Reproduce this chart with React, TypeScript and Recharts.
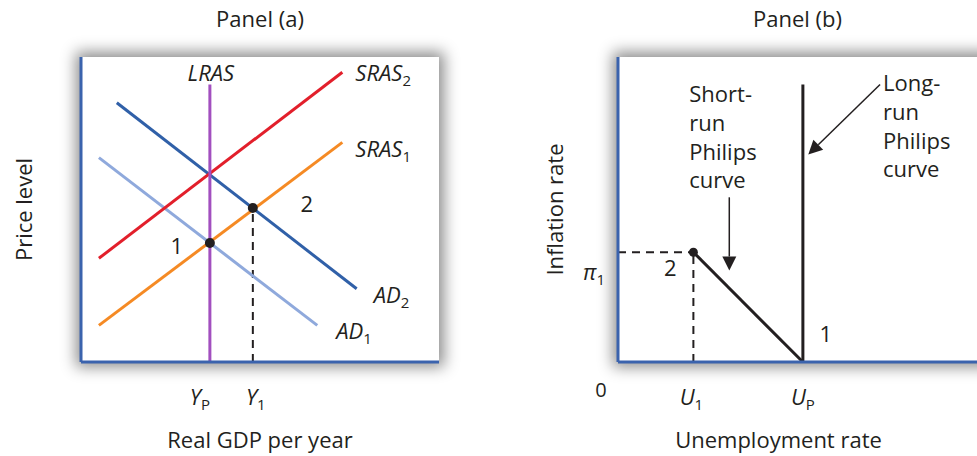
import React from "react";
import { ComposedChart, Line, Scatter, XAxis, YAxis, ReferenceLine, LabelList } from "recharts";

const FONT = "'Open Sans', 'Noto Sans', sans-serif";
const INK = "#231f20";
const AXIS = "#3b63ad";
const FS = 22;

// Panel (a): price level vs real GDP, both axes run 0..100
const lras = [{ x: 36, y: 0 }, { x: 36, y: 91 }];
const sras1 = [{ x: 5, y: 12 }, { x: 73, y: 72 }];
const sras2 = [{ x: 5, y: 34 }, { x: 73, y: 95 }];
const ad1 = [{ x: 5, y: 67 }, { x: 66, y: 12 }];
const ad2 = [{ x: 10, y: 85 }, { x: 77, y: 24 }];
const y1Drop = [{ x: 48, y: 0 }, { x: 48, y: 50.5 }];
const eqA = [{ x: 36, y: 39, name: "1" }, { x: 48, y: 50.5, name: "2" }];
const gdpTicks = [36, 48];
const gdpTickNames: Record<string, [string, string]> = { "36": ["Y", "P"], "48": ["Y", "1"] };

// Panel (b): inflation vs unemployment
const lrpc = [{ x: 51.5, y: 0 }, { x: 51.5, y: 91 }];
const srpc = [{ x: 21, y: 36 }, { x: 51.5, y: 0 }];
const u1Drop = [{ x: 21, y: 0 }, { x: 21, y: 36 }];
const pi1Guide = [{ x: 0, y: 36 }, { x: 21, y: 36 }];
const eqB = [{ x: 51.5, y: 0, name: "1" }, { x: 21, y: 36, name: "2" }];
const unempTicks = [21, 51.5];
const unempTickNames: Record<string, [string, string]> = { "21": ["U", "1"], "51.5": ["U", "P"] };
const inflTicks = [0, 36];
const srArrow = [{ x: 31, y: 54 }, { x: 31, y: 30 }];
const lrArrow = [{ x: 73, y: 91 }, { x: 53, y: 68 }];
const srText = ["Short-", "run", "Philips", "curve"];
const lrText = ["Long-", "run", "Philips", "curve"];

function SubLabel({ x, y, main, sub, anchor = "start", italic = true }: any) {
  return (
    <text x={x} y={y} textAnchor={anchor} fontFamily={FONT} fontSize={FS} fill={INK}>
      <tspan fontStyle={italic ? "italic" : "normal"}>{main}</tspan>
      {sub ? <tspan fontSize={15} dy={5}>{sub}</tspan> : null}
    </text>
  );
}

const endLabel = (main: string, sub: string, dx: number, dy: number, anchor = "start") => (p: any) =>
  p.index === 1 ? <SubLabel x={p.x + dx} y={p.y + dy} main={main} sub={sub} anchor={anchor} /> : null;

const xTick = (names: Record<string, [string, string]>, shift: Record<string, number>) => (p: any) => {
  const key = String(p.payload.value);
  const [m, s] = names[key];
  return <SubLabel x={p.x + (shift[key] ?? 0)} y={p.y + 43} main={m} sub={s} anchor="middle" />;
};

const inflTick = (p: any) =>
  p.payload.value === 0 ? (
    <text x={p.x - 17} y={p.y + 35} textAnchor="middle" fontFamily={FONT} fontSize={20} fill={INK}>0</text>
  ) : (
    <SubLabel x={p.x - 13} y={p.y + 28} main="π" sub="1" anchor="end" />
  );

const dotShape = (offsets: Record<string, [number, number]>, r: number) => (p: any) => {
  const [dx, dy] = offsets[p.payload.name];
  return (
    <g>
      <circle cx={p.cx} cy={p.cy} r={r} fill={INK} />
      <text x={p.cx + dx} y={p.cy + dy} textAnchor="middle" fontFamily={FONT} fontSize={FS} fill={INK}>
        {p.payload.name}
      </text>
    </g>
  );
};

const arrowShape = (lines: string[], tx: number, ty: number) => (p: any) => {
  const { x1, y1, x2, y2 } = p;
  const a = Math.atan2(y2 - y1, x2 - x1);
  const len = 14, half = 7;
  const bx = x2 - len * Math.cos(a), by = y2 - len * Math.sin(a);
  const nx = -Math.sin(a) * half, ny = Math.cos(a) * half;
  return (
    <g>
      <line x1={x1} y1={y1} x2={bx} y2={by} stroke={INK} strokeWidth={1.5} />
      <polygon points={`${x2},${y2} ${bx + nx},${by + ny} ${bx - nx},${by - ny}`} fill={INK} />
      <text x={x1 + tx} y={y1 + ty} fontFamily={FONT} fontSize={FS} fill={INK}>
        {lines.map((t, i) => (
          <tspan key={t} x={x1 + tx} dy={i === 0 ? 0 : 28.6}>{t}</tspan>
        ))}
      </text>
    </g>
  );
};

const axisLine = { stroke: AXIS, strokeWidth: 3 };
const yTitle = (value: string, offset: number) => ({
  value, angle: -90, position: "insideLeft" as const, offset,
  style: { textAnchor: "middle", fontSize: FS, fill: INK, fontFamily: FONT },
});
const xTitle = (value: string, shift: number) => (p: any) => {
  const vb = p.viewBox;
  return (
    <text x={vb.x + vb.width / 2 + shift} y={vb.y + 86} textAnchor="middle" fontFamily={FONT} fontSize={FS} fill={INK}>
      {value}
    </text>
  );
};

function PanelA() {
  return (
    <ComposedChart width={480} height={456} margin={{ top: 57, right: 41, bottom: 54, left: 21 }}>
      <XAxis type="number" dataKey="x" domain={[0, 100]} ticks={gdpTicks} tickSize={0} tickMargin={0}
        axisLine={axisLine} tickLine={false} height={40}
        tick={xTick(gdpTickNames, { "36": -10, "48": 3 })}
        label={{ content: xTitle("Real GDP per year", 0) }} />
      <YAxis type="number" dataKey="y" domain={[0, 100]} width={60} tick={false} tickLine={false}
        axisLine={axisLine} label={yTitle("Price level", 3)} />
      <Line data={y1Drop} dataKey="y" stroke={INK} strokeWidth={2} strokeDasharray="8 6" dot={false} isAnimationActive={false} />
      <Line data={ad1} dataKey="y" stroke="#8fa9dc" strokeWidth={3} dot={false} isAnimationActive={false}>
        <LabelList dataKey="y" content={endLabel("AD", "1", 19, 13.5)} />
      </Line>
      <Line data={ad2} dataKey="y" stroke="#3060a8" strokeWidth={3} dot={false} isAnimationActive={false}>
        <LabelList dataKey="y" content={endLabel("AD", "2", 17, 14.5)} />
      </Line>
      <Line data={sras1} dataKey="y" stroke="#f58a24" strokeWidth={3} dot={false} isAnimationActive={false}>
        <LabelList dataKey="y" content={endLabel("SRAS", "1", 13, 14.5)} />
      </Line>
      <Line data={sras2} dataKey="y" stroke="#e21f2b" strokeWidth={3} dot={false} isAnimationActive={false}>
        <LabelList dataKey="y" content={endLabel("SRAS", "2", 13, 8.5)} />
      </Line>
      <Line data={lras} dataKey="y" stroke="#a24fbf" strokeWidth={3} dot={false} isAnimationActive={false}>
        <LabelList dataKey="y" content={endLabel("LRAS", "", 1, -3, "middle")} />
      </Line>
      <Scatter data={eqA} isAnimationActive={false}
        shape={dotShape({ "1": [-33, 10.5], "2": [54, 4.5] }, 5)} />
    </ComposedChart>
  );
}

function PanelB() {
  return (
    <ComposedChart width={497} height={456} margin={{ top: 57, right: 0, bottom: 54, left: 68 }}>
      <XAxis type="number" dataKey="x" domain={[0, 100]} ticks={unempTicks} tickSize={0} tickMargin={0}
        axisLine={axisLine} tickLine={false} height={40}
        tick={xTick(unempTickNames, { "21": -2, "51.5": 0 })}
        label={{ content: xTitle("Unemployment rate", -19) }} />
      <YAxis type="number" dataKey="y" domain={[0, 100]} ticks={inflTicks} width={70} tickSize={0} tickMargin={0}
        tickLine={false} axisLine={axisLine} tick={inflTick} label={yTitle("Inflation rate", 7)} />
      <Line data={pi1Guide} dataKey="y" stroke={INK} strokeWidth={2} strokeDasharray="8 6" dot={false} isAnimationActive={false} />
      <Line data={u1Drop} dataKey="y" stroke={INK} strokeWidth={2} strokeDasharray="8 6" dot={false} isAnimationActive={false} />
      <Line data={srpc} dataKey="y" stroke={INK} strokeWidth={3} dot={false} isAnimationActive={false} />
      <Line data={lrpc} dataKey="y" stroke={INK} strokeWidth={3} dot={false} isAnimationActive={false} />
      <ReferenceLine segment={srArrow} ifOverflow="visible" shape={arrowShape(srText, -40, -95)} />
      <ReferenceLine segment={lrArrow} ifOverflow="visible" shape={arrowShape(lrText, 3, 7)} />
      <Scatter data={eqB} isAnimationActive={false}
        shape={(p: any) => (p.payload.name === "2"
          ? dotShape({ "2": [-23, 24] }, 4.5)(p)
          : <text x={p.cx + 23} y={p.cy - 20} textAnchor="middle" fontFamily={FONT} fontSize={FS} fill={INK}>1</text>)} />
    </ComposedChart>
  );
}

const title: React.CSSProperties = {
  position: "absolute", top: 4, textAlign: "center", fontSize: FS, lineHeight: "28px", color: INK,
};
const box: React.CSSProperties = {
  position: "absolute", top: 57, height: 305, background: "#fff",
  boxShadow: "0 0 14px 5px rgba(0,0,0,0.45)",
};

export default function App() {
  return (
    <div style={{ position: "absolute", left: 0, top: 0, width: 977, height: 456, overflow: "hidden", background: "#fff", fontFamily: FONT }}>
      <div style={{ ...title, left: 81, width: 358 }}>Panel (a)</div>
      <div style={{ ...title, left: 618, width: 359 }}>Panel (b)</div>
      <div style={{ ...box, left: 81, width: 358 }} />
      <div style={{ ...box, left: 618, width: 420 }} />
      <div style={{ position: "absolute", left: 0, top: 0 }}><PanelA /></div>
      <div style={{ position: "absolute", left: 480, top: 0 }}><PanelB /></div>
    </div>
  );
}
